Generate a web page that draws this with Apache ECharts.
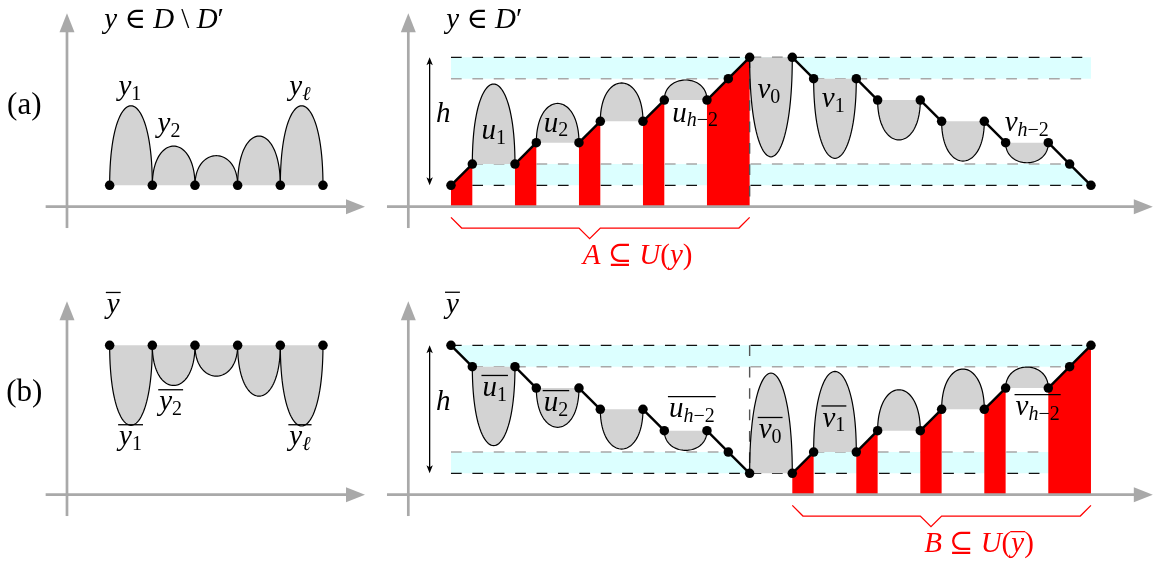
<!DOCTYPE html>
<html><head><meta charset="utf-8">
<script src="https://cdn.jsdelivr.net/npm/echarts@6/dist/echarts.min.js"></script>
<style>html,body{margin:0;padding:0;background:#fff}#c{width:1154px;height:568px}</style>
</head><body><div id="c"></div>
<script>
// ---------------- data (diagram units) ----------------
const leftPointU = [2, 4, 6, 8, 10, 12];
const aLeftBaseV = 1;
const aLeftArcHeights = [3.73, 1.84, 1.39, 2.31, 3.73];
const bLeftBaseV = 7;
const bLeftArcHeights = [-3.75, -1.88, -1.44, -2.38, -3.78];

const aRightPath = [[2,1],[3,2],[5,2],[6,3],[8,3],[9,4],[11,4],[12,5],[14,5],[15,6],[16,7],
                    [18,7],[19,6],[21,6],[22,5],[24,5],[25,4],[27,4],[28,3],[30,3],[31,2],[32,1]];
const aRightArcStarts = [3, 6, 9, 12, 16, 19, 22, 25, 28];
const aRightArcHeights = [3.75, 1.84, 1.8, 0.94, -4.66, -3.73, -1.87, -1.86, -0.94];

const bRightPath = [[2,7],[3,6],[5,6],[6,5],[8,5],[9,4],[11,4],[12,3],[14,3],[15,2],[16,1],
                    [18,1],[19,2],[21,2],[22,3],[24,3],[25,4],[27,4],[28,5],[30,5],[31,6],[32,7]];
const bRightArcStarts = [3, 6, 9, 12, 16, 19, 22, 25, 28];
const bRightArcHeights = [-3.7, -1.84, -1.86, -0.92, 4.7, 3.78, 1.92, 1.89, 0.98];

const aRedRanges = [[2,3],[5,6],[8,9],[11,12],[14,16]];
const bRedRanges = [[18,19],[21,22],[24,25],[27,28],[30,32]];

const aBands = [[[2,6],[2,7],[18,7],[18,6]], [[18,7],[32,7],[32,6],[19,6]], [[3,1],[32,1],[31,2],[3,2]]];
const bBands = [[[2,7],[32,7],[32,6],[3,6]], [[2,1],[16,1],[15,2],[2,2]], [[19,1],[32,1],[32,2],[19,2]]];

// dashed guide lines: [u1, v1, u2, v2, kind]
const aDashes = [[2,7,32,7,'k'],[2,6,16,6,'g'],[19,6,32,6,'g'],[3,2,31,2,'g'],[3,1,32,1,'k']];
const bDashes = [[2,7,32,7,'k'],[3,6,32,6,'g'],[2,2,15,2,'g'],[19,2,32,2,'g'],[2,1,32,1,'k']];
const aSplit = [16, 7, 16, 0];
const bSplit = [16, 7, 16, 1];

const hArrow = [1, 1, 7];           // u, from v, to v
const aBrace = [[2,-0.5],[2.5,-1],[8,-1],[8.5,-1.5],[9,-1],[15.5,-1],[16,-0.5]];
const bBrace = [[18,-0.5],[18.5,-1],[24,-1],[24.5,-1.5],[25,-1],[31.5,-1],[32,-0.5]];

const leftAxis = [-1, 13.97, -1, 9.07];   // x from, x tip, y from, y tip
const rightAxis = [-1, 34.9, -1, 9.07];

// ---------------- layout ----------------
const OFF = {aL:[-16,0], aR:[0,0], bL:[-16,-13.5], bR:[0,-13.5]};
function G(p, u, v){ return [u + OFF[p][0], v + OFF[p][1]]; }

const labelLayout = [
 {p:'aL', u:1.75, v:8.72, al:'left', parts:[['i','y'],['n',' ∈ '],['i','D'],['n',' \\ '],['i','D'],['n','′']]},
 {p:'aL', u:-2.0, v:4.72, big:true, parts:[['n','(a)']]},
 {p:'aL', u:2.95, v:5.59, parts:[['i','y'],['s','1']]},
 {p:'aL', u:4.78, v:3.84, parts:[['i','y'],['s','2']]},
 {p:'aL', u:10.92, v:5.59, parts:[['i','y'],['si','ℓ']]},
 {p:'aR', u:1.78, v:8.72, al:'left', parts:[['i','y'],['n',' ∈ '],['i','D'],['n','′']]},
 {p:'aR', u:1.64, v:4.34, parts:[['i','h']]},
 {p:'aR', u:4.0, v:3.52, parts:[['i','u'],['s','1']]},
 {p:'aR', u:6.92, v:3.88, parts:[['i','u'],['s','2']]},
 {p:'aR', u:13.44, v:4.34, parts:[['i','u'],['si','h'],['s','−2']]},
 {p:'aR', u:16.9, v:5.43, parts:[['i','v'],['s','0']]},
 {p:'aR', u:19.92, v:5.01, parts:[['i','v'],['s','1']]},
 {p:'aR', u:28.99, v:3.91, parts:[['i','v'],['si','h'],['s','−2']]},
 {p:'aR', u:10.75, v:-2.33, red:true, parts:[['i','A'],['n',' ⊆ '],['i','U'],['n','('],['i','y'],['n',')']]},
 {p:'bL', u:2.17, v:8.87, bar:[0,0], parts:[['i','y']]},
 {p:'bL', u:-2.0, v:4.77, big:true, parts:[['n','(b)']]},
 {p:'bL', u:2.98, v:2.67, bar:[0,1], parts:[['i','y'],['s','1']]},
 {p:'bL', u:4.86, v:4.31, bar:[0,1], parts:[['i','y'],['s','2']]},
 {p:'bL', u:10.92, v:2.67, bar:[0,1], parts:[['i','y'],['si','ℓ']]},
 {p:'bR', u:2.07, v:8.88, bar:[0,0], parts:[['i','y']]},
 {p:'bR', u:1.64, v:4.34, parts:[['i','h']]},
 {p:'bR', u:4.05, v:4.98, bar:[0,1], parts:[['i','u'],['s','1']]},
 {p:'bR', u:6.92, v:4.27, bar:[0,1], parts:[['i','u'],['s','2']]},
 {p:'bR', u:13.29, v:3.99, bar:[0,2], parts:[['i','u'],['si','h'],['s','−2']]},
 {p:'bR', u:16.96, v:3.01, bar:[0,1], parts:[['i','v'],['s','0']]},
 {p:'bR', u:19.95, v:3.55, bar:[0,1], parts:[['i','v'],['s','1']]},
 {p:'bR', u:29.5, v:4.08, bar:[0,2], parts:[['i','v'],['si','h'],['s','−2']]},
 {p:'bR', u:26.75, v:-2.34, red:true, bar:[4,4], parts:[['i','B'],['n',' ⊆ '],['i','U'],['n','('],['i','y'],['n',')']]}
];

// ---------------- derived geometry ----------------
const arcs = [];
leftPointU.slice(0,5).forEach((u,i)=>{ arcs.push({p:'aL', u0:u, v0:aLeftBaseV, h:aLeftArcHeights[i]}); });
leftPointU.slice(0,5).forEach((u,i)=>{ arcs.push({p:'bL', u0:u, v0:bLeftBaseV, h:bLeftArcHeights[i]}); });
function vAt(path, u){ return path.find(q=>q[0]===u)[1]; }
aRightArcStarts.forEach((u,i)=>arcs.push({p:'aR', u0:u, v0:vAt(aRightPath,u), h:aRightArcHeights[i]}));
bRightArcStarts.forEach((u,i)=>arcs.push({p:'bR', u0:u, v0:vAt(bRightPath,u), h:bRightArcHeights[i]}));

function arcPts(a){
  const k = a.h/0.75, pts=[];
  const P=[[a.u0,a.v0],[a.u0,a.v0+k],[a.u0+2,a.v0+k],[a.u0+2,a.v0]];
  for(let j=0;j<=48;j++){
    const t=j/48, m=1-t;
    const b=[m*m*m,3*m*m*t,3*m*t*t,t*t*t];
    pts.push([b[0]*P[0][0]+b[1]*P[1][0]+b[2]*P[2][0]+b[3]*P[3][0],
              b[0]*P[0][1]+b[1]*P[1][1]+b[2]*P[2][1]+b[3]*P[3][1]]);
  }
  return pts;
}

const segs = [];
[['aR',aRightPath],['bR',bRightPath]].forEach(([p,path])=>{
  for(let i=0;i<path.length-1;i++) if(path[i+1][0]-path[i][0]===1) segs.push({p, a:path[i], b:path[i+1]});
});

const reds = [];
[['aR',aRightPath,aRedRanges],['bR',bRightPath,bRedRanges]].forEach(([p,path,rs])=>{
  rs.forEach(r=>{
    const pts=[[r[0],0]];
    path.forEach(q=>{ if(q[0]>=r[0]&&q[0]<=r[1]) pts.push(q); });
    pts.push([r[1],0]);
    reds.push({p, pts});
  });
});

const bands = aBands.map(b=>({p:'aR', pts:b})).concat(bBands.map(b=>({p:'bR', pts:b})));
const dashes = aDashes.map(d=>({p:'aR', d})).concat(bDashes.map(d=>({p:'bR', d})));
const splits = [{p:'aR', d:aSplit}, {p:'bR', d:bSplit}];
const axes = [{p:'aL',a:leftAxis},{p:'aR',a:rightAxis},{p:'bL',a:leftAxis},{p:'bR',a:rightAxis}];
const braces = [{p:'aR', pts:aBrace}, {p:'bR', pts:bBrace}];
const hArrows = [{p:'aR'},{p:'bR'}];

const points = [];
leftPointU.forEach(u=>{ points.push(G('aL',u,aLeftBaseV)); points.push(G('bL',u,bLeftBaseV)); });
aRightPath.forEach(q=>points.push(G('aR',q[0],q[1])));
bRightPath.forEach(q=>points.push(G('bR',q[0],q[1])));

// ---------------- styles ----------------
const GRAY_FILL = '#d3d3d3', CYAN = '#dcffff', RED = '#ff0000', AXIS = '#a9a9a9';
const FS = 29, SFS = 20, BIGFS = 31, FAM = '"Liberation Serif","DejaVu Serif",serif';
function richFor(color, big){
  const fs = big ? BIGFS : FS;
  return {
    i:{fontFamily:FAM, fontStyle:'italic', fontSize:fs, lineHeight:34, fill:color},
    n:{fontFamily:FAM, fontSize:fs, lineHeight:34, fill:color},
    si:{fontFamily:FAM, fontStyle:'italic', fontSize:SFS, lineHeight:21, verticalAlign:'bottom', fill:color},
    s:{fontFamily:FAM, fontSize:SFS, lineHeight:21, verticalAlign:'bottom', fill:color}
  };
}
const mctx = document.createElement('canvas').getContext('2d');
function partWidth(part, big){
  const it = part[0]==='i'||part[0]==='si';
  const sz = (part[0]==='s'||part[0]==='si') ? SFS : (big ? BIGFS : FS);
  mctx.font = (it?'italic ':'') + sz + 'px ' + FAM;
  return mctx.measureText(part[1]).width;
}

function custom(z, items, fn){
  return {type:'custom', z, silent:true, coordinateSystem:'cartesian2d',
    data: items.map((_,i)=>[0,0,i]),
    renderItem:(params, api)=>fn(items[params.dataIndex], api)};
}
const C = (api,p,u,v)=>api.coord(G(p,u,v));

const series = [
  custom(1, bands, (b,api)=>({type:'polygon', shape:{points:b.pts.map(q=>C(api,b.p,q[0],q[1]))}, style:{fill:CYAN}})),
  custom(2, dashes, (o,api)=>{ const d=o.d, s=C(api,o.p,d[0],d[1]), e=C(api,o.p,d[2],d[3]);
    return {type:'line', shape:{x1:s[0],y1:s[1],x2:e[0],y2:e[1]},
      style:{stroke:d[4]==='k'?'#111':'#a8a8a8', lineWidth:1.4, lineDash:[10.7,10.7]}}; }),
  custom(3, arcs, (a,api)=>({type:'polygon', shape:{points:arcPts(a).map(q=>C(api,a.p,q[0],q[1]))}, style:{fill:GRAY_FILL}})),
  custom(4, reds, (r,api)=>({type:'polygon', shape:{points:r.pts.map(q=>C(api,r.p,q[0],q[1]))}, style:{fill:RED}})),
  custom(5, splits, (o,api)=>{ const d=o.d, s=C(api,o.p,d[0],d[1]), e=C(api,o.p,d[2],d[3]);
    return {type:'line', shape:{x1:s[0],y1:s[1],x2:e[0],y2:e[1]}, style:{stroke:'#555', lineWidth:1.4, lineDash:[10.7,10.7]}}; }),
  custom(6, axes, (o,api)=>{ const a=o.a;
    const x0=C(api,o.p,a[0],0), x1=C(api,o.p,a[1],0), y0=C(api,o.p,0,a[2]), y1=C(api,o.p,0,a[3]);
    const L=19, W=7.5;
    return {type:'group', children:[
      {type:'line', shape:{x1:x0[0],y1:x0[1],x2:x1[0]-L+2,y2:x1[1]}, style:{stroke:AXIS, lineWidth:2.7}},
      {type:'line', shape:{x1:y0[0],y1:y0[1],x2:y1[0],y2:y1[1]+L-2}, style:{stroke:AXIS, lineWidth:2.7}},
      {type:'polygon', shape:{points:[[x1[0],x1[1]],[x1[0]-L,x1[1]-W],[x1[0]-L,x1[1]+W]]}, style:{fill:AXIS}},
      {type:'polygon', shape:{points:[[y1[0],y1[1]],[y1[0]-W,y1[1]+L],[y1[0]+W,y1[1]+L]]}, style:{fill:AXIS}}
    ]}; }),
  custom(7, arcs, (a,api)=>({type:'polyline', shape:{points:arcPts(a).map(q=>C(api,a.p,q[0],q[1]))}, style:{stroke:'#000', lineWidth:1.2, fill:null}})),
  custom(8, segs, (s,api)=>{ const a=C(api,s.p,s.a[0],s.a[1]), b=C(api,s.p,s.b[0],s.b[1]);
    return {type:'line', shape:{x1:a[0],y1:a[1],x2:b[0],y2:b[1]}, style:{stroke:'#000', lineWidth:2.4}}; }),
  custom(8, braces, (b,api)=>({type:'polyline', shape:{points:b.pts.map(q=>C(api,b.p,q[0],q[1]))}, style:{stroke:RED, lineWidth:1.3, fill:null}})),
  custom(8, hArrows, (o,api)=>{ const t=C(api,o.p,hArrow[0],hArrow[2]), b=C(api,o.p,hArrow[0],hArrow[1]);
    const L=8, W=3.2;
    return {type:'group', children:[
      {type:'line', shape:{x1:t[0],y1:t[1]+4,x2:b[0],y2:b[1]-4}, style:{stroke:'#000', lineWidth:1.3}},
      {type:'polygon', shape:{points:[[t[0],t[1]],[t[0]-W,t[1]+L],[t[0],t[1]+L-2],[t[0]+W,t[1]+L]]}, style:{fill:'#000'}},
      {type:'polygon', shape:{points:[[b[0],b[1]],[b[0]-W,b[1]-L],[b[0],b[1]-L+2],[b[0]+W,b[1]-L]]}, style:{fill:'#000'}}
    ]}; }),
  {type:'scatter', z:9, silent:true, symbol:'circle', symbolSize:9.5, itemStyle:{color:'#000', opacity:1}, data:points},
  custom(10, labelLayout, (l,api)=>{
    const c = C(api,l.p,l.u,l.v), color = l.red?RED:'#000';
    const txt = l.parts.map(q=>'{'+q[0]+'|'+q[1]+'}').join('');
    const ws = l.parts.map(q=>partWidth(q, l.big)), W = ws.reduce((a,b)=>a+b,0);
    const left = l.al==='left' ? c[0] : c[0]-W/2;
    const children = [{type:'text', x:c[0], y:c[1], style:{legacy:false, text:txt, rich:richFor(color, l.big),
      align:l.al||'center', verticalAlign:'middle', fill:color}}];
    if(l.bar){
      let xs = left; for(let i=0;i<l.bar[0];i++) xs+=ws[i];
      let xe = xs; for(let i=l.bar[0];i<=l.bar[1];i++) xe+=ws[i];
      const y = c[1]-13;
      children.push({type:'line', shape:{x1:xs-1,y1:y,x2:xe+1,y2:y}, style:{stroke:color, lineWidth:1.3}});
    }
    return {type:'group', children};
  })
];

const chart = echarts.init(document.getElementById('c'), null, {renderer:'canvas'});
chart.setOption({
  animation:false,
  backgroundColor:'#fff',
  grid:{left:0,right:0,top:0,bottom:0},
  xAxis:{type:'value', min:-19.14, max:34.955, show:false},
  yAxis:{type:'value', min:-16.936, max:9.689, show:false},
  series
});
</script></body></html>
